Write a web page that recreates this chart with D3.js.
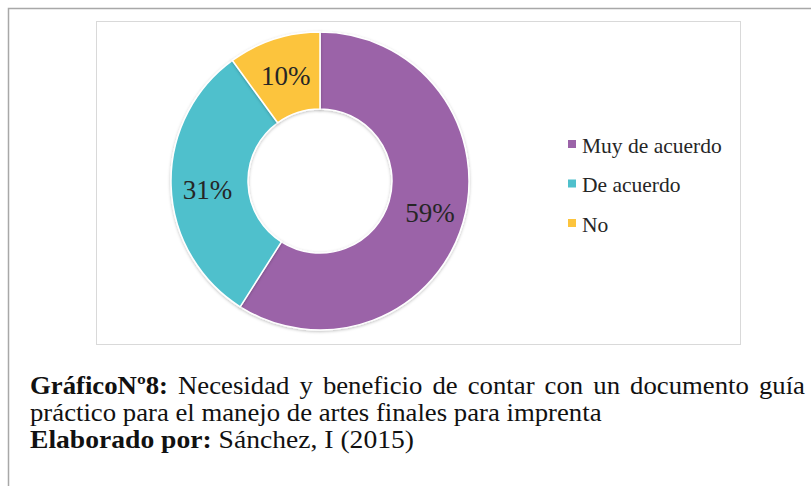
<!DOCTYPE html>
<html><head><meta charset="utf-8">
<script src="https://cdn.jsdelivr.net/npm/d3@7/dist/d3.min.js"></script>
<style>body{margin:0;background:#fff}svg{display:block}</style>
</head><body>
<svg id="c" width="811" height="486"></svg>
<script>
const categories = ["Muy de acuerdo", "De acuerdo", "No"];
const values = [59, 31, 10];
const labels = ["59%", "31%", "10%"];
const colors = ["#9B63A8", "#4FC0CC", "#FCC43D"];
const captionLine1 = [["GráficoNº8:", true], ["Necesidad", false], ["y", false], ["beneficio", false], ["de", false], ["contar", false], ["con", false], ["un", false], ["documento", false], ["guía", false]];
const captionLine2 = "práctico para el manejo de artes finales para imprenta";
const captionLine3 = [["Elaborado por:", true], [" Sánchez, I (2015)", false]];

const svg = d3.select("#c");
const serif = "Liberation Serif, Times New Roman, serif";

// outer frame
svg.append("path").attr("d", "M8.5,486 V8.5 H811").attr("fill","none").attr("stroke","#a8a8a8").attr("stroke-width",1.5);
// inner chart box
svg.append("rect").attr("x",96.5).attr("y",21.5).attr("width",644).attr("height",323)
  .attr("fill","#fff").attr("stroke","#d9d9d9").attr("stroke-width",1);

const defs = svg.append("defs");
const f = defs.append("filter").attr("id","sh").attr("x","-20%").attr("y","-20%").attr("width","140%").attr("height","140%");
f.append("feDropShadow").attr("dx",0).attr("dy",1).attr("stdDeviation",1.5).attr("flood-color","#000").attr("flood-opacity",0.25);

const cx = 320, cy = 181, R = 149, r = 72;
const pie = d3.pie().sort(null).value(d => d)(values);
const arc = d3.arc().innerRadius(r).outerRadius(R);
const g = svg.append("g").attr("transform", `translate(${cx},${cy})`);
g.selectAll("path").data(pie).join("path")
  .attr("d", arc).attr("fill", (d,i) => colors[i])
  .attr("stroke","#fff").attr("stroke-width",1.5).attr("filter","url(#sh)");

const labelArc = d3.arc().innerRadius((r+R)/2).outerRadius((r+R)/2);
const offs = [[4,1],[-2,5],[0,0]];
g.selectAll("text").data(pie).join("text")
  .attr("transform", (d,i) => { const c = labelArc.centroid(d); return `translate(${c[0]+offs[i][0]},${c[1]+offs[i][1]})`; })
  .attr("text-anchor","middle").attr("dy","0.35em")
  .style("font-family", serif).attr("font-size", 27).attr("fill","#262626")
  .text((d,i) => labels[i]);

// legend
const leg = svg.append("g");
const ly = d3.scalePoint().domain(categories).range([145, 224]);
categories.forEach((c,i) => {
  leg.append("rect").attr("x",568).attr("y",ly(c)-5).attr("width",8).attr("height",8).attr("fill",colors[i]);
  leg.append("text").attr("x",582).attr("y",ly(c)).attr("dy","0.35em")
    .style("font-family",serif).attr("font-size",21.5).attr("fill","#262626").text(c);
});

// caption
const k = 1.07;
const cap = svg.append("g").attr("transform", `translate(30,0) scale(${k},1)`)
  .style("font-family", serif).attr("font-size", 25).attr("fill","#111");
// line 1 justified: lay out words individually
const L1 = 775 / k;
const words = captionLine1.map(([w,b]) => cap.append("text").attr("y",394).attr("font-weight", b ? "bold" : null).text(w));
const widths = words.map(t => t.node().getComputedTextLength());
const gap = (L1 - d3.sum(widths)) / (words.length - 1);
let xx = 0;
words.forEach((t,i) => { t.attr("x", xx); xx += widths[i] + gap; });
cap.append("text").attr("x",0).attr("y",421).text(captionLine2);
const t3 = cap.append("text").attr("x",0).attr("y",448)
  .attr("textLength", 384 / k).attr("lengthAdjust","spacingAndGlyphs");
captionLine3.forEach(([s,b]) => t3.append("tspan").attr("font-weight", b ? "bold" : null).text(s));
</script>
</body></html>
